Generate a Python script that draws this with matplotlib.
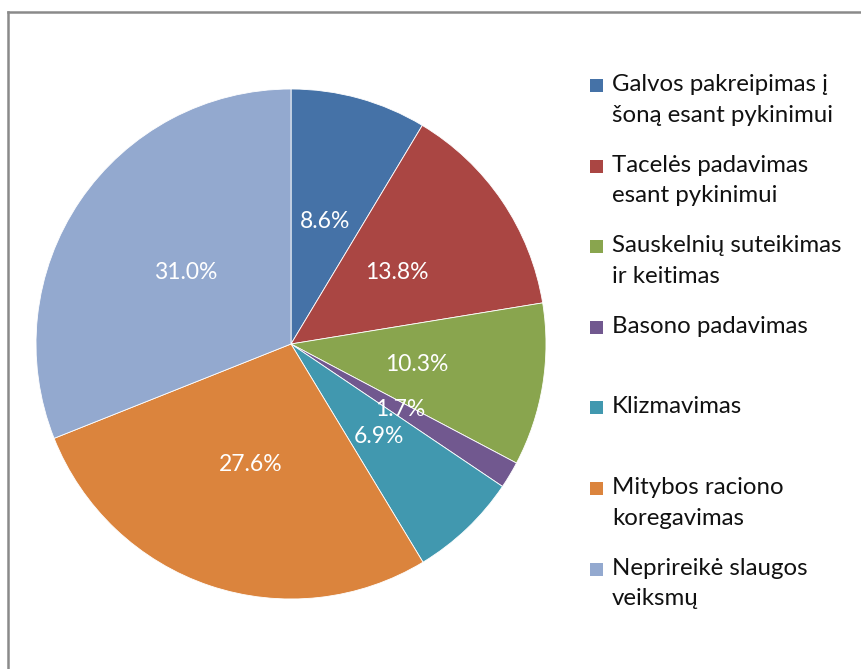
import matplotlib
matplotlib.use("Agg")
import matplotlib.pyplot as plt
from matplotlib.patches import Rectangle
from matplotlib.lines import Line2D

plt.rcParams['font.family'] = ['Lato', 'DejaVu Sans']

labels = ["Galvos pakreipimas į\nšoną esant pykinimui",
          "Tacelės padavimas\nesant pykinimui",
          "Sauskelnių suteikimas\nir keitimas",
          "Basono padavimas",
          "Klizmavimas",
          "Mitybos raciono\nkoregavimas",
          "Neprireikė slaugos\nveiksmų"]
values = [8.6, 13.8, 10.3, 1.7, 6.9, 27.6, 31.0]
colors = ["#4572A7", "#AA4643", "#89A54E", "#71588F", "#4198AF", "#DB843D", "#93A9CF"]

W, H = 861, 669
fig = plt.figure(figsize=(W / 100, H / 100), dpi=100)

cx, cy, r = 291, 344, 255
ax = fig.add_axes([(cx - r) / W, (H - cy - r) / H, 2 * r / W, 2 * r / H])
wedges, texts, autotexts = ax.pie(values, colors=colors, startangle=90, counterclock=False,
                                  autopct='%.1f%%', pctdistance=0.5, radius=1,
                                  wedgeprops=dict(edgecolor='white', linewidth=0.6),
                                  textprops=dict(color='white', fontsize=16.5))
ax.set_xlim(-1, 1)
ax.set_ylim(-1, 1)
ax.set_aspect('equal')
ax.axis('off')

# legend drawn manually
y0 = 85
step = 80.6
for i, (lab, col) in enumerate(zip(labels, colors)):
    yc = y0 + i * step
    fig.patches.append(Rectangle((590 / W, 1 - (yc + 7) / H), 13 / W, 13 / H,
                                 transform=fig.transFigure, facecolor=col, edgecolor='none'))
    fig.text(612 / W, 1 - (yc - 11) / H, lab, fontsize=17.3, color='#111111',
             va='top', ha='left', linespacing=1.58)

# outer border (top and left visible)
fig.add_artist(Line2D([8 / W, 8 / W], [0, 1 - 12 / H], transform=fig.transFigure,
                      color='#8a8a8a', linewidth=1.8))
fig.add_artist(Line2D([8 / W, 1], [1 - 12 / H, 1 - 12 / H], transform=fig.transFigure,
                      color='#8a8a8a', linewidth=1.8))

fig.savefig("out.png", dpi=100, facecolor='white')
